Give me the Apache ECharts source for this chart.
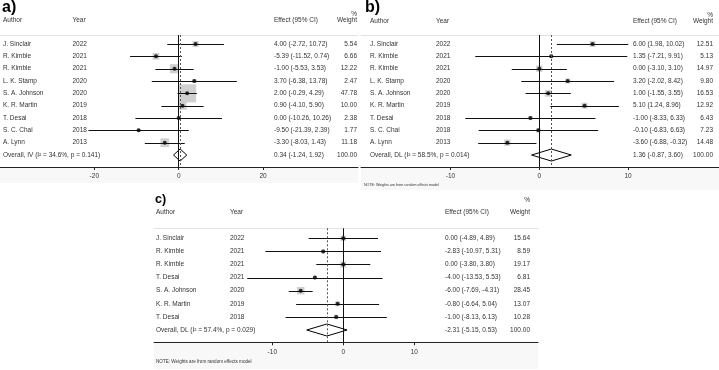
<!DOCTYPE html>
<html>
<head>
<meta charset="utf-8">
<script src="https://cdn.jsdelivr.net/npm/echarts@6/dist/echarts.min.js"></script>
<style>
  html, body { margin: 0; padding: 0; background: #fff; }
  #chart { width: 719px; height: 370px; }
</style>
</head>
<body>
<div id="chart"></div>
<script>
  // panel a) and b) share the same studies
  var authorsAB = ['J. Sinclair', 'R. Kimble', 'R. Kimble', 'L. K. Stamp', 'S. A. Johnson', 'K. R. Martin', 'T. Desai', 'S. C. Chai', 'A. Lynn']
  var yearsAB = ['2022', '2021', '2021', '2020', '2020', '2019', '2018', '2018', '2013']

  // a) fixed effects (IV)
  var effA = [4.00, -5.39, -1.00, 3.70, 2.00, 0.90, 0.00, -9.50, -3.30]
  var loA = [-2.72, -11.52, -5.53, -6.38, -0.29, -4.10, -10.26, -21.39, -8.03]
  var hiA = [10.72, 0.74, 3.53, 13.78, 4.29, 5.90, 10.26, 2.39, 1.43]
  var wA = [5.54, 6.66, 12.22, 2.47, 47.78, 10.00, 2.38, 1.77, 11.18]
  var overallA = [0.34, -1.24, 1.92]
  var labelA = 'Overall, IV (I\u00b2 = 34.6%, p = 0.141)'
  var ticksA = [-20, 0, 20]

  // b) random effects (DL)
  var effB = [6.00, 1.35, 0.00, 3.20, 1.00, 5.10, -1.00, -0.10, -3.60]
  var loB = [1.98, -7.21, -3.10, -2.02, -1.55, 1.24, -8.33, -6.83, -6.88]
  var hiB = [10.02, 9.91, 3.10, 8.42, 3.55, 8.96, 6.33, 6.63, -0.32]
  var wB = [12.51, 5.13, 14.97, 9.80, 16.53, 12.92, 6.43, 7.23, 14.48]
  var overallB = [1.36, -0.87, 3.60]
  var labelB = 'Overall, DL (I\u00b2 = 58.5%, p = 0.014)'
  var ticksB = [-10, 0, 10]

  // c) random effects (DL)
  var authorsC = ['J. Sinclair', 'R. Kimble', 'R. Kimble', 'T. Desai', 'S. A. Johnson', 'K. R. Martin', 'T. Desai']
  var yearsC = ['2022', '2021', '2021', '2021', '2020', '2019', '2018']
  var effC = [0.00, -2.83, 0.00, -4.00, -6.00, -0.80, -1.00]
  var loC = [-4.89, -10.97, -3.80, -13.53, -7.69, -6.64, -8.13]
  var hiC = [4.89, 5.31, 3.80, 5.53, -4.31, 5.04, 6.13]
  var wC = [15.64, 8.59, 19.17, 6.81, 28.45, 13.07, 10.28]
  var overallC = [-2.31, -5.15, 0.53]
  var labelC = 'Overall, DL (I\u00b2 = 57.4%, p = 0.029)'
  var ticksC = [-10, 0, 10]

  var noteText = 'NOTE: Weights are from random effects model'
  var FONT = 'Liberation Sans, Arial, sans-serif'
  var TXT = '#333'
  var FS = 6.5

  var panels = [
    { title: 'a)', authors: authorsAB, years: yearsAB, eff: effA, lo: loA, hi: hiA, w: wA, overall: overallA, label: labelA, ticks: ticksA,
      box: 2.6, left: 0, right: 358, top: 35, bottom: 167, xmin: -42.35, xmax: 42.49, ymin: 0.27, ymax: 10.97,
      authorX: 3, yearX: 72.5, effX: 274, wRight: 357, headY: 20.5, pctY: 14, titleX: 2, titleY: 8, titleSize: 16,
      note: null, greyTo: 183 },
    { title: 'b)', authors: authorsAB, years: yearsAB, eff: effB, lo: loB, hi: hiB, w: wB, overall: overallB, label: labelB, ticks: ticksB,
      box: 1.65, left: 361, right: 719, top: 35, bottom: 167, xmin: -20.08, xmax: 20.24, ymin: 0.27, ymax: 10.97,
      authorX: 370, yearX: 436, effX: 633, wRight: 713, headY: 21, pctY: 15, titleX: 365, titleY: 8, titleSize: 16,
      note: { x: 364, y: 185, size: 3.6 }, greyTo: 190 },
    { title: 'c)', authors: authorsC, years: yearsC, eff: effC, lo: loC, hi: hiC, w: wC, overall: overallC, label: labelC, ticks: ticksC,
      box: 1.4, left: 154, right: 538, top: 228.3, bottom: 342.3, xmin: -26.66, xmax: 27.42, ymin: 0.237, ymax: 8.94,
      authorX: 156, yearX: 230, effX: 445, wRight: 530, headY: 212, pctY: 200, titleX: 155, titleY: 200, titleSize: 12.5,
      note: { x: 156, y: 362, size: 4.6 }, greyTo: 369 }
  ]

  function fmt(v) { return v.toFixed(2) }

  var grid = [], xAxis = [], yAxis = [], series = [], graphic = []

  panels.forEach(function (p, i) {
    var n = p.eff.length
    var rows = []
    for (var r = 1; r <= n + 1; r++) rows.push(r)

    grid.push({ left: p.left, width: p.right - p.left, top: p.top, height: p.bottom - p.top })

    // bottom axis with the few ticks, top axis is just the light separator
    xAxis.push({
      gridIndex: i, type: 'value', min: p.xmin, max: p.xmax, position: 'bottom',
      axisLine: { lineStyle: { color: '#222', width: 1 } },
      axisTick: { show: true, length: 3, customValues: p.ticks, lineStyle: { color: '#222' } },
      axisLabel: { customValues: p.ticks, margin: 6, fontSize: FS, color: TXT, fontFamily: FONT },
      splitLine: { show: false }
    })
    xAxis.push({
      gridIndex: i, type: 'value', min: p.xmin, max: p.xmax, position: 'top',
      axisLine: { lineStyle: { color: '#e2e2e2', width: 1 } },
      axisTick: { show: false }, axisLabel: { show: false }, splitLine: { show: false }
    })

    yAxis.push({
      gridIndex: i, type: 'value', inverse: true, min: p.ymin, max: p.ymax, position: 'left',
      axisLine: { show: false }, axisTick: { show: false }, splitLine: { show: false },
      axisLabel: {
        inside: true, margin: p.authorX - p.left, customValues: rows,
        fontSize: FS, color: TXT, fontFamily: FONT,
        formatter: function (v) {
          if (v > n) return '{o|' + p.label + '}'
          return '{a|' + p.authors[v - 1] + '}{y|' + p.years[v - 1] + '}'
        },
        rich: {
          a: { width: p.yearX - p.authorX, fontSize: FS, color: TXT, fontFamily: FONT },
          y: { fontSize: FS, color: TXT, fontFamily: FONT },
          o: { fontSize: FS, color: TXT, fontFamily: FONT }
        }
      }
    })
    yAxis.push({
      gridIndex: i, type: 'value', inverse: true, min: p.ymin, max: p.ymax, position: 'right',
      axisLine: { show: false }, axisTick: { show: false }, splitLine: { show: false },
      axisLabel: {
        inside: true, margin: p.right - p.wRight, customValues: rows,
        fontSize: FS, color: TXT, fontFamily: FONT,
        formatter: function (v) {
          var e, wt
          if (v > n) { e = p.overall; wt = 100 } else { e = [p.eff[v - 1], p.lo[v - 1], p.hi[v - 1]]; wt = p.w[v - 1] }
          return '{e|' + fmt(e[0]) + ' (' + fmt(e[1]) + ', ' + fmt(e[2]) + ')}{w|' + fmt(wt) + '}'
        },
        rich: {
          e: { width: p.wRight - 24 - p.effX, align: 'left', fontSize: FS, color: TXT, fontFamily: FONT },
          w: { width: 24, align: 'right', fontSize: FS, color: TXT, fontFamily: FONT }
        }
      }
    })

    var xi = 2 * i, yi = 2 * i

    // weight boxes + zero line and overall dashed line
    series.push({
      type: 'scatter', xAxisIndex: xi, yAxisIndex: yi, symbol: 'rect', silent: true, z: 1,
      symbolSize: function (val) { return p.box * Math.sqrt(val[2]) },
      itemStyle: { color: '#c4c4c4' },
      data: p.eff.map(function (e, k) { return [e, k + 1, p.w[k]] }),
      markLine: {
        silent: true, symbol: 'none', label: { show: false }, animation: false,
        data: [
          { xAxis: 0, lineStyle: { color: '#111', width: 1, type: 'solid' } },
          { xAxis: p.overall[0], lineStyle: { color: '#555', width: 1, type: [2, 2] } }
        ]
      }
    })

    // confidence intervals
    series.push({
      type: 'custom', xAxisIndex: xi, yAxisIndex: yi, silent: true, z: 3,
      renderItem: function (params, api) {
        var a = api.coord([api.value(0), api.value(2)])
        var b = api.coord([api.value(1), api.value(2)])
        var y = Math.round(a[1]) + 0.5
        return { type: 'line', shape: { x1: a[0], y1: y, x2: b[0], y2: y }, style: { stroke: '#111', lineWidth: 1 } }
      },
      encode: { x: [0, 1], y: 2 },
      data: p.lo.map(function (l, k) { return [l, p.hi[k], k + 1] })
    })

    // point estimates
    series.push({
      type: 'scatter', xAxisIndex: xi, yAxisIndex: yi, symbol: 'circle', symbolSize: 4, silent: true, z: 4,
      itemStyle: { color: '#000' },
      data: p.eff.map(function (e, k) { return [e, k + 1] })
    })

    // overall diamond
    series.push({
      type: 'custom', xAxisIndex: xi, yAxisIndex: yi, silent: true, z: 4,
      renderItem: function (params, api) {
        var c = api.coord([api.value(0), api.value(3)])
        var l = api.coord([api.value(1), api.value(3)])
        var r = api.coord([api.value(2), api.value(3)])
        var h = 6
        return {
          type: 'polygon',
          shape: { points: [[l[0], c[1]], [c[0], c[1] - h], [r[0], c[1]], [c[0], c[1] + h]] },
          style: { fill: 'none', stroke: '#000', lineWidth: 1 }
        }
      },
      encode: { x: [0, 1, 2], y: 3 },
      data: [[p.overall[0], p.overall[1], p.overall[2], n + 1]]
    })

    // light grey strip under the axis
    graphic.push({
      type: 'rect', z: -10, silent: true,
      shape: { x: p.left, y: p.bottom, width: p.right - p.left, height: p.greyTo - p.bottom },
      style: { fill: '#f8f8f8' }
    })

    // headers and title
    var txt = function (s, x, y, align, size, weight) {
      graphic.push({
        type: 'text', x: x, y: y, silent: true, z: 10,
        style: { text: s, align: align, verticalAlign: 'middle', fontSize: size || FS, fontWeight: weight || 'normal', fill: weight ? '#000' : TXT, fontFamily: FONT }
      })
    }
    txt(p.title, p.titleX, p.titleY, 'left', p.titleSize, 'bold')
    txt('Author', p.authorX, p.headY, 'left')
    txt('Year', p.yearX, p.headY, 'left')
    txt('Effect (95% CI)', p.effX, p.headY, 'left')
    txt('Weight', p.wRight, p.headY, 'right')
    txt('%', p.wRight, p.pctY, 'right')
    if (p.note) txt(noteText, p.note.x, p.note.y, 'left', p.note.size)
  })

  var chart = echarts.init(document.getElementById('chart'))
  chart.setOption({
    animation: false,
    backgroundColor: '#fff',
    grid: grid,
    xAxis: xAxis,
    yAxis: yAxis,
    series: series,
    graphic: graphic
  })
</script>
</body>
</html>
